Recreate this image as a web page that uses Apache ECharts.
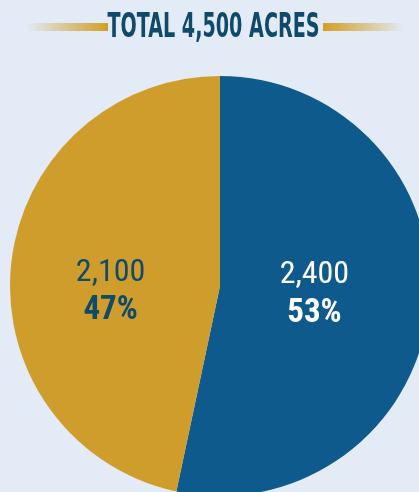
<!DOCTYPE html>
<html>
<head>
<meta charset="utf-8">
<script src="https://cdn.jsdelivr.net/npm/echarts@6/dist/echarts.min.js"></script>
<style>
  html, body { margin: 0; padding: 0; background: #e3ebf6; }
  #chart { width: 419px; height: 492px; }
</style>
</head>
<body>
<div id="chart"></div>
<script>
// Acreage split, drawn clockwise from 12 o'clock
const categories = ['Blue', 'Gold'];
const acres = [2400, 2100];
const percents = [53, 47];
const titleText = 'TOTAL 4,500 ACRES';

const colors = ['#0f5a8c', '#cf9d2c'];
const labelColors = ['#ffffff', '#0f4a6b'];
const labelOffsets = [[-13, -3], [-2, 17]];

const condensed = '"Roboto Condensed", "Liberation Sans Narrow", "DejaVu Sans Condensed", "Roboto", sans-serif';

const chart = echarts.init(document.getElementById('chart'), null, { renderer: 'canvas' });

chart.setOption({
  backgroundColor: '#e3ebf6',
  animation: false,
  graphic: [
    {
      type: 'rect',
      shape: { x: 26, y: 23, width: 82, height: 8 },
      style: {
        fill: new echarts.graphic.LinearGradient(0, 0, 1, 0, [
          { offset: 0, color: 'rgba(207,157,44,0)' },
          { offset: 1, color: '#d49e22' }
        ])
      }
    },
    {
      type: 'rect',
      shape: { x: 323, y: 23, width: 82, height: 8 },
      style: {
        fill: new echarts.graphic.LinearGradient(0, 0, 1, 0, [
          { offset: 0, color: '#d49e22' },
          { offset: 1, color: 'rgba(207,157,44,0)' }
        ])
      }
    },
    {
      type: 'text',
      x: 213.5, y: 28,
      scaleX: 0.645,
      style: {
        text: titleText,
        fill: '#0f4a6b',
        font: 'bold 33px "DejaVu Sans Condensed", "DejaVu Sans", sans-serif',
        align: 'center',
        verticalAlign: 'middle'
      }
    }
  ],
  series: [{
    type: 'pie',
    center: [220, 286],
    radius: [0, 210],
    startAngle: 90,
    clockwise: true,
    silent: true,
    label: {
      show: true,
      position: 'inside',
      formatter: p => '{v|' + acres[p.dataIndex].toLocaleString('en-US') + '}\n{p|' + percents[p.dataIndex] + '%}',
      rich: {
        v: { fontFamily: condensed, fontSize: 32, fontWeight: 'normal', lineHeight: 38 },
        p: { fontFamily: condensed, fontSize: 33, fontWeight: 'bold', lineHeight: 38 }
      }
    },
    labelLine: { show: false },
    data: categories.map((name, i) => ({
      name,
      value: acres[i],
      itemStyle: { color: colors[i] },
      label: {
        color: labelColors[i],
        offset: labelOffsets[i],
        rich: {
          v: { color: labelColors[i] },
          p: { color: labelColors[i] }
        }
      }
    }))
  }]
});
</script>
</body>
</html>
